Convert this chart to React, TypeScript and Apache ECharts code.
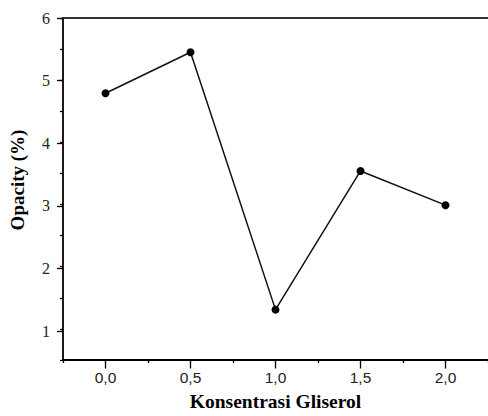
import React, { useEffect, useRef } from "react";
import * as echarts from "echarts";

const concentrations = [0.0, 0.5, 1.0, 1.5, 2.0];
const opacity = [4.79, 5.45, 1.31, 3.54, 2.99];
const yTickLabels = ["1", "2", "3", "4", "5", "6"];
const xTickLabels = ["0,0", "0,5", "1,0", "1,5", "2,0"];

const SERIF = "Liberation Serif";
const SANS = "Liberation Sans";

export default function App() {
  const ref = useRef<HTMLDivElement>(null);

  useEffect(() => {
    if (!ref.current) return;
    const chart = echarts.init(ref.current, null, { renderer: "svg" });
    const seriesData = concentrations.map((c, i) => [c, opacity[i]]);

    const option: any = {
      animation: false,
      backgroundColor: "#ffffff",
      grid: [
        { left: 63, right: 0, top: 18, bottom: 53.5 },
        { left: 105.5, right: 42.5, top: 18, bottom: 53.5 },
        { left: 63, right: 0, top: 18, bottom: 84.7 },
      ],
      xAxis: [
        {
          gridIndex: 0,
          type: "value",
          min: -0.25,
          max: 2.25,
          interval: 0.25,
          position: "bottom",
          axisLine: { show: true, onZero: false, lineStyle: { color: "#000", width: 1.8 } },
          axisTick: { show: true, length: 3, inside: false, lineStyle: { color: "#000", width: 1.3 } },
          axisLabel: { show: false },
          splitLine: { show: false },
          name: "Konsentrasi Gliserol",
          nameLocation: "middle",
          nameGap: 31,
          nameTextStyle: { fontFamily: SERIF, fontWeight: "bold", fontSize: 19.5, color: "#000" },
        },
        {
          gridIndex: 0,
          type: "value",
          min: -0.25,
          max: 2.25,
          position: "top",
          axisLine: { show: true, onZero: false, lineStyle: { color: "#333", width: 2 } },
          axisTick: { show: false },
          axisLabel: { show: false },
          splitLine: { show: false },
        },
        {
          gridIndex: 1,
          type: "value",
          min: 0,
          max: 2,
          interval: 0.5,
          position: "bottom",
          axisLine: { show: false },
          axisTick: { show: true, length: 6, lineStyle: { color: "#000", width: 1.3 } },
          axisLabel: {
            show: true,
            margin: 7,
            fontFamily: SANS,
            fontSize: 15.5,
            color: "#222",
            formatter: (v: number) => xTickLabels[Math.round(v / 0.5)] ?? "",
          },
          splitLine: { show: false },
        },
        {
          gridIndex: 2,
          type: "value",
          min: 0,
          max: 1,
          show: false,
        },
      ],
      yAxis: [
        {
          gridIndex: 0,
          type: "value",
          min: 0.5,
          max: 6,
          interval: 0.5,
          position: "left",
          axisLine: { show: true, onZero: false, lineStyle: { color: "#000", width: 1.8 } },
          axisTick: { show: true, length: 3, lineStyle: { color: "#000", width: 1.3 } },
          axisLabel: { show: false },
          splitLine: { show: false },
          name: "Opacity (%)",
          nameLocation: "middle",
          nameGap: 36,
          nameTextStyle: {
            fontFamily: SERIF,
            fontWeight: "bold",
            fontSize: 19,
            color: "#000",
            padding: [0, 0, 0, 18],
          },
        },
        {
          gridIndex: 0,
          type: "value",
          min: 0.5,
          max: 6,
          position: "right",
          axisLine: { show: true, onZero: false, lineStyle: { color: "#d0d0d0", width: 1 } },
          axisTick: { show: false },
          axisLabel: { show: false },
          splitLine: { show: false },
        },
        {
          gridIndex: 1,
          type: "value",
          min: 0,
          max: 1,
          show: false,
        },
        {
          gridIndex: 2,
          type: "value",
          min: 1,
          max: 6,
          interval: 1,
          position: "left",
          axisLine: { show: false },
          axisTick: { show: true, length: 6, lineStyle: { color: "#000", width: 1.3 } },
          axisLabel: {
            show: true,
            margin: 13,
            fontFamily: SERIF,
            fontSize: 16,
            color: "#222",
            formatter: (v: number) => yTickLabels[Math.round(v) - 1] ?? "",
          },
          splitLine: { show: false },
        },
      ],
      series: [
        {
          type: "line",
          xAxisIndex: 0,
          yAxisIndex: 0,
          data: seriesData,
          symbol: "circle",
          symbolSize: 8,
          lineStyle: { color: "#111", width: 1.5 },
          itemStyle: { color: "#000" },
          z: 5,
        },
      ],
    };

    chart.setOption(option);
    return () => chart.dispose();
  }, []);

  return (
    <div
      ref={ref}
      style={{ position: "fixed", left: 0, top: 0, width: 488, height: 416, background: "#fff" }}
    />
  );
}
